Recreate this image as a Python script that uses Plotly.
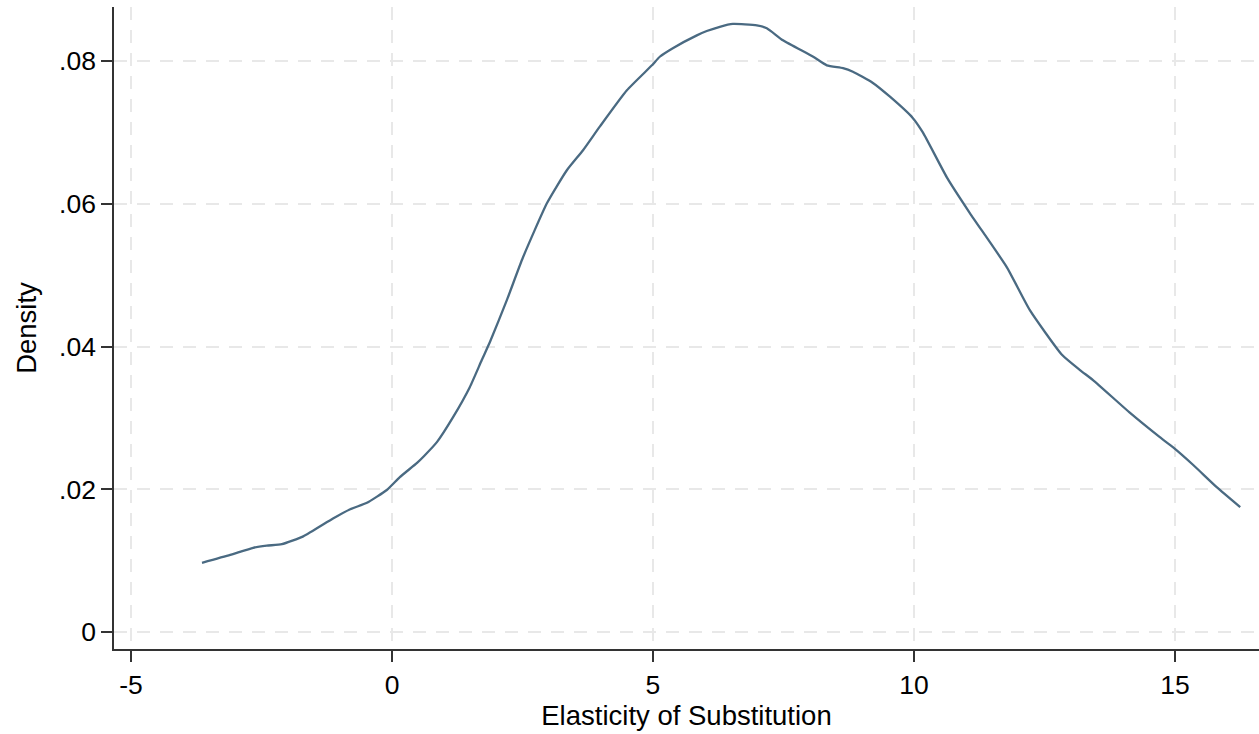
import plotly.graph_objects as go

elasticity = [-3.64, -3.10, -2.66, -2.40, -2.11, -1.70, -1.13, -0.80, -0.48, -0.10,
              0.15, 0.48, 0.62, 0.86, 1.17, 1.49, 1.72, 1.88, 2.20, 2.51, 2.97, 3.35,
              3.66, 3.98, 4.50, 4.98, 5.13, 5.38, 5.84, 6.03, 6.28, 6.53, 6.99, 7.18,
              7.49, 8.07, 8.33, 8.64, 8.83, 9.20, 9.54, 9.98, 10.17, 10.63,
              11.07, 11.78, 12.22, 12.84, 13.18, 13.43, 14.14, 14.71, 14.96, 15.35,
              15.80, 16.25]
density = [0.0097, 0.0108, 0.0118, 0.0121, 0.0123, 0.0134, 0.0159, 0.0172, 0.0181, 0.0199,
           0.0217, 0.0237, 0.0247, 0.0266, 0.0301, 0.0343, 0.0381, 0.0407, 0.0465, 0.0525, 0.0601, 0.0647,
           0.0675, 0.0708, 0.0759, 0.0794, 0.0806, 0.0818, 0.0836, 0.0842, 0.0848, 0.0852, 0.0850, 0.0846,
           0.0829, 0.0806, 0.0794, 0.0790, 0.0785, 0.0770, 0.0750, 0.0720, 0.0700, 0.0637,
           0.0587, 0.0511, 0.0451, 0.0388, 0.0367, 0.0353, 0.0307, 0.0273, 0.0259, 0.0234,
           0.0203, 0.0175]

x_ticks = [-5, 0, 5, 10, 15]
x_tick_labels = ["-5", "0", "5", "10", "15"]
y_ticks = [0, 0.02, 0.04, 0.06, 0.08]
y_tick_labels = ["0", ".02", ".04", ".06", ".08"]

FONT = "Liberation Sans, Arial, sans-serif"

fig = go.Figure()
fig.add_trace(go.Scatter(
    x=elasticity, y=density, mode="lines",
    line=dict(color="#4a6a82", width=2.3, shape="spline", smoothing=0.5),
    showlegend=False, hoverinfo="skip",
))

axis_common = dict(
    showline=True, linecolor="#333333", linewidth=1.5,
    ticks="outside", ticklen=11, tickwidth=1.5, tickcolor="#333333",
    showgrid=True, gridcolor="#e8e8e8", gridwidth=1.5, griddash="13px,10px",
    zeroline=False,
    tickfont=dict(family=FONT, size=26.5, color="#000000"),
)

fig.update_xaxes(
    range=[-5.326, 16.61],
    tickvals=x_ticks, ticktext=x_tick_labels,
    title=dict(text="Elasticity of Substitution",
               font=dict(family=FONT, size=27.5, color="#000000"),
               standoff=6),
    **axis_common,
)
fig.update_yaxes(
    range=[-0.00238, 0.08757],
    tickvals=y_ticks, ticktext=y_tick_labels,
    title=dict(text="Density",
               font=dict(family=FONT, size=27.5, color="#000000"),
               standoff=14),
    **axis_common,
)

fig.update_layout(
    width=1259, height=734,
    margin=dict(l=114, r=0, t=7, b=85),
    plot_bgcolor="white", paper_bgcolor="white",
    font=dict(family=FONT),
)

fig.write_html("out.html", config={"displayModeBar": False},
               post_script="document.body.style.margin='0px';")
